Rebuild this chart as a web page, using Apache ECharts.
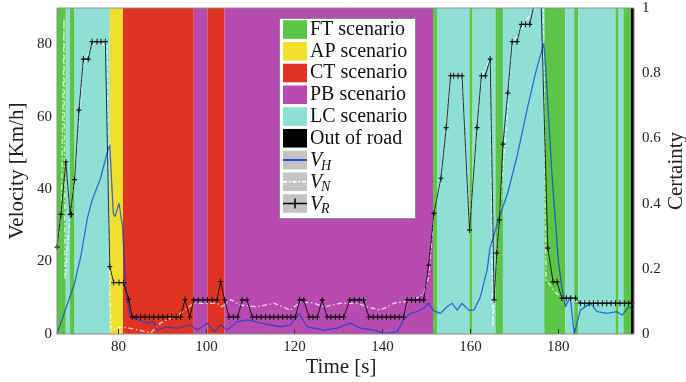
<!DOCTYPE html>
<html>
<head>
<meta charset="utf-8">
<script src="https://cdn.jsdelivr.net/npm/echarts@6/dist/echarts.min.js"></script>
<style>
  html, body { margin: 0; padding: 0; background: #fff; }
  #chart { width: 686px; height: 382px; }
</style>
</head>
<body>
<div id="chart"></div>
<script>
// Axis ticks
const timeTicks = [80, 100, 120, 140, 160, 180];
const speedTicks = [0, 20, 40, 60, 80];

// Scenario classes and their colours
const scenarioNames = ['FT scenario', 'AP scenario', 'CT scenario', 'PB scenario', 'LC scenario', 'Out of road'];
const scenarioColors = ['#5cc446', '#f1df2f', '#df3324', '#b84bb0', '#8edfd6', '#000000'];

// Detected scenario segments: [start time, end time, scenario index]
const segments = [
  [66.0, 68.0, 0], [68.0, 68.9, 4], [68.9, 70.0, 0], [70.0, 78.0, 4],
  [78.0, 81.0, 1], [81.0, 97.1, 2], [97.1, 100.2, 3], [100.2, 104.1, 2],
  [104.1, 151.5, 3], [151.5, 152.4, 0], [152.4, 159.8, 4], [159.8, 160.5, 0],
  [160.5, 165.7, 4], [165.7, 167.4, 0], [167.4, 176.8, 4], [176.8, 181.6, 0],
  [181.6, 183.6, 4], [183.6, 184.5, 0], [184.5, 193.0, 4], [193.0, 193.7, 0],
  [193.7, 194.8, 4], [194.8, 196.5, 0], [196.5, 197.2, 5]
];

// Host vehicle speed V_H [time s, km/h]
const speedH = [
  [66.0, 0], [68.0, 7], [70.0, 14], [71.5, 22], [72.9, 32], [74.0, 37], [75.9, 43], [77.4, 50],
  [78.0, 52.2], [78.8, 33.3], [79.2, 32.4], [80.1, 36.1], [80.9, 29.6], [81.7, 11.2], [82.7, 4.8],
  [84.5, 3.9], [86.5, 3.0], [88.0, 3.4], [88.8, 1.1], [91.0, 2.0], [93.3, 1.6], [96.4, 2.5],
  [97.9, 1.1], [100.2, 3.0], [101.7, 0.6], [103.2, 2.5], [104.7, 1.1], [107.0, 3.4], [109.3, 3.9],
  [110.5, 3.6], [112.3, 3.0], [116.8, 2.0], [119.1, 2.5], [121.0, 5.7], [122.9, 2.0], [126.7, 1.1],
  [129.7, 1.6], [132.7, 3.0], [135.0, 1.6], [138.0, 1.1], [140.7, 0.2], [143.3, 0.6], [144.8, 3.9],
  [146.4, 5.7], [147.9, 6.2], [149.4, 7.1], [150.5, 8.5], [151.7, 6.4], [153.2, 5.7], [154.7, 7.5],
  [155.8, 8.5], [157.0, 6.6], [158.1, 8.5], [159.6, 6.6], [160.8, 6.6], [162.3, 10.3], [163.8, 17.7],
  [164.5, 24], [166.5, 32], [168.5, 39], [170.6, 49], [172.9, 62], [174.8, 72], [176.7, 80.3],
  [177.2, 72], [178.5, 45], [180.0, 20], [180.8, 13], [181.6, 7.5], [182.7, 10.3], [183.6, 0],
  [185.0, 6.6], [187.3, 8.5], [188.8, 6.2], [191.1, 5.7], [193.3, 6.2], [194.5, 5.2], [196.0, 7.5],
  [197.2, 6.5]
];

// Nominal speed V_N [time s, km/h]
const speedN = [
  [66.0, 24], [67.0, 33], [67.6, 87], [67.8, 15], [69.0, 33], [70.0, 43], [72.0, 74], [74.0, 80],
  [77.4, 80], [78.0, 12], [78.3, 1], [80.5, 2], [83.0, 1.5], [87.3, 0.3], [89.5, 3], [94.1, 5.7],
  [97.1, 8.5], [102.4, 8.5], [103.5, 7.5], [105.5, 9.5], [107.7, 8], [111.5, 7.5], [115.3, 8.5],
  [119.1, 6.6], [121.4, 8.9], [124.4, 8.5], [126.7, 7.5], [130.5, 8.5], [134.3, 8.5], [136.5, 7.5],
  [139.5, 6.6], [141.1, 7.5], [142.6, 8.5], [144.8, 8.9], [147.1, 9.4], [149.4, 11.2], [150.5, 15.8],
  [151.7, 33], [153.3, 43], [155.5, 71], [158.1, 71], [159.8, 30], [162.5, 71], [164.5, 76],
  [165.1, 2], [166.0, 22], [169.5, 80], [174.4, 90], [176.6, 90], [177.2, 15], [179.0, 12],
  [181.0, 9.5], [184.0, 9], [197.0, 8.5]
];

// Recommended speed V_R [time s, km/h]
const speedR = [
  [66.0, 24], [66.9, 33], [68.0, 47.5], [69.0, 33], [69.3, 33], [70.0, 42.6], [71.0, 61.8],
  [72.0, 75.9], [73.1, 75.9], [74.0, 80.7], [75.1, 80.7], [76.0, 80.7], [77.0, 80.7], [78.0, 18.6],
  [78.9, 14.2], [80.1, 14.2], [81.1, 14.2], [82.3, 9.6], [83.1, 4.7], [84.0, 4.7], [85.0, 4.7],
  [86.0, 4.7], [87.0, 4.7], [88.0, 4.7], [89.1, 4.7], [90.1, 4.7], [91.1, 4.7], [92.1, 4.7],
  [93.1, 4.7], [94.1, 4.7], [95.1, 9.5], [96.2, 4.7], [97.1, 9.4], [98.1, 9.4], [99.2, 9.4],
  [100.2, 9.4], [101.3, 9.4], [102.4, 9.4], [103.2, 14.5], [104.1, 9.4], [105.1, 4.7], [106.1, 4.7],
  [107.1, 4.7], [108.1, 9.4], [109.2, 9.4], [110.4, 4.7], [111.4, 4.7], [112.4, 4.7], [113.4, 4.7],
  [114.4, 4.7], [115.3, 4.7], [116.3, 4.7], [117.3, 4.7], [118.3, 4.7], [119.2, 4.7], [120.2, 4.7],
  [121.2, 9.4], [122.1, 9.4], [123.3, 4.7], [124.2, 4.7], [125.2, 4.7], [126.3, 9.4], [127.4, 4.7],
  [128.3, 4.7], [129.3, 4.7], [130.2, 4.7], [131.2, 4.7], [132.6, 9.4], [133.6, 9.4], [134.7, 9.4],
  [135.7, 9.4], [136.9, 4.7], [137.9, 4.7], [138.9, 4.7], [139.9, 4.7], [140.9, 4.7], [141.9, 4.7],
  [142.8, 4.7], [143.8, 4.7], [144.8, 4.7], [145.6, 9.4], [146.6, 9.4], [147.5, 9.4], [148.5, 9.4],
  [149.4, 9.4], [150.5, 19], [151.7, 33.3], [153.3, 43], [154.5, 57], [155.5, 71.3], [156.2, 71.3],
  [157.2, 71.3], [158.1, 71.3], [159.8, 28.7], [161.5, 57], [162.5, 71.3], [163.4, 71.3],
  [164.5, 75.9], [165.4, 9.4], [166.0, 22.3], [166.6, 31.5], [167.4, 52.4], [168.5, 66.5],
  [169.5, 80.7], [170.6, 80.7], [171.6, 85.5], [172.5, 85.5], [173.5, 85.5], [174.4, 90.5],
  [175.2, 90.5], [176.1, 90.5], [177.6, 23.7], [178.8, 14.4], [179.7, 14.4], [180.8, 9.9],
  [181.8, 9.9], [182.8, 9.9], [183.9, 9.9], [185.0, 8.5], [186.0, 8.5], [187.0, 8.5], [188.0, 8.5],
  [189.0, 8.5], [190.0, 8.5], [191.0, 8.5], [192.0, 8.5], [193.0, 8.5], [194.0, 8.5], [195.0, 8.5],
  [196.0, 8.5], [196.8, 8.5]
];

const SERIF = 'Liberation Serif';
const T_MIN = 66, T_MAX = 197.2, V_MAX = 90;
const GRID = { left: 57, top: 8, width: 577, height: 326 };

const colorH = 'rgba(10,60,215,0.72)';
const colorN = 'rgba(255,255,255,0.72)';
const colorR = 'rgba(0,0,0,0.8)';
const plusPath = 'path://M4,0h2v4h4v2h-4v4h-2v-4h-4v-2h4z';

// Legend drawn as graphic elements (swatch boxes and line samples on grey)
function buildLegend() {
  const x0 = 279.5, y0 = 18.5, rowH = 21.75, firstRow = 29.5, Z = 100;
  const els = [{
    type: 'rect', z: Z, shape: { x: x0, y: y0, width: 136, height: 200 },
    style: { fill: '#fff', stroke: '#8a8a8a', lineWidth: 1 }
  }];
  scenarioNames.forEach((name, i) => {
    const cy = firstRow + rowH * i;
    els.push({ type: 'rect', z: Z + 1, shape: { x: 283, y: cy - 9.3, width: 24, height: 18.6 }, style: { fill: scenarioColors[i] } });
    els.push({ type: 'text', z: Z + 1, x: 310, y: cy, style: { text: name, font: '20px "' + SERIF + '"', fill: '#111', verticalAlign: 'middle' } });
  });
  const lineItems = [
    { sub: 'H', stroke: '#2050d8', width: 2, dash: 'solid', plus: false },
    { sub: 'N', stroke: '#ffffff', width: 2, dash: [4, 2, 1.5, 2], plus: false },
    { sub: 'R', stroke: '#000000', width: 1.5, dash: 'solid', plus: true }
  ];
  lineItems.forEach((it, k) => {
    const cy = firstRow + rowH * (6 + k);
    els.push({ type: 'rect', z: Z + 1, shape: { x: 283, y: cy - 9.3, width: 24, height: 18.6 }, style: { fill: '#c3c3c3' } });
    els.push({ type: 'line', z: Z + 2, shape: { x1: 283, y1: cy, x2: 307, y2: cy }, style: { stroke: it.stroke, lineWidth: it.width, lineDash: it.dash } });
    if (it.plus) {
      els.push({ type: 'line', z: Z + 2, shape: { x1: 295, y1: cy - 5, x2: 295, y2: cy + 5 }, style: { stroke: '#000', lineWidth: 1.5 } });
    }
    els.push({ type: 'text', z: Z + 1, x: 310, y: cy + 1, style: { text: 'V', font: 'italic 20px "' + SERIF + '"', fill: '#111', verticalAlign: 'middle' } });
    els.push({ type: 'text', z: Z + 1, x: 321, y: cy + 6, style: { text: it.sub, font: 'italic 14px "' + SERIF + '"', fill: '#111', verticalAlign: 'middle' } });
  });
  return els;
}

const chart = echarts.init(document.getElementById('chart'), null, { renderer: 'canvas' });

const option = {
  animation: false,
  backgroundColor: '#fff',
  grid: { left: GRID.left, top: GRID.top, width: GRID.width, height: GRID.height, containLabel: false, outerBoundsMode: 'none' },
  xAxis: {
    type: 'value', min: T_MIN, max: T_MAX, z: 10,
    name: 'Time [s]', nameLocation: 'middle', nameGap: 23, nameMoveOverlap: false,
    nameTextStyle: { fontFamily: SERIF, fontSize: 21, color: '#222', padding: [0, 9, 0, 0] },
    axisLine: { show: false },
    axisTick: { show: true, inside: true, length: 5, customValues: timeTicks, lineStyle: { color: '#333' } },
    axisLabel: { customValues: timeTicks, fontFamily: SERIF, fontSize: 15, color: '#222', margin: 6 },
    splitLine: { show: false }
  },
  yAxis: [{
    type: 'value', min: 0, max: V_MAX, z: 10,
    name: 'Velocity [Km/h]', nameLocation: 'middle', nameGap: 29, nameRotate: 90, nameMoveOverlap: false,
    nameTextStyle: { fontFamily: SERIF, fontSize: 21, color: '#222' },
    axisLine: { show: false },
    axisTick: { show: false, customValues: speedTicks },
    axisLabel: { customValues: speedTicks, fontFamily: SERIF, fontSize: 15, color: '#222', margin: 5 },
    splitLine: { show: false }
  }, {
    type: 'value', min: 0, max: 1, interval: 0.2, position: 'right', z: 10,
    name: 'Certainty', nameLocation: 'middle', nameGap: 32, nameRotate: 90, nameMoveOverlap: false,
    nameTextStyle: { fontFamily: SERIF, fontSize: 21, color: '#222' },
    axisLine: { show: false },
    axisTick: { show: false },
    axisLabel: { fontFamily: SERIF, fontSize: 15, color: '#222', margin: 8 },
    splitLine: { show: false }
  }],
  graphic: [
    { type: 'rect', z: 50, shape: { x: GRID.left, y: GRID.top, width: GRID.width, height: GRID.height },
      style: { fill: 'none', stroke: '#8c8c8c', lineWidth: 1 } }
  ].concat(buildLegend()),
  series: [
    {
      name: 'scenarios', type: 'custom', z: 1, silent: true,
      data: segments,
      encode: { x: [0, 1] },
      renderItem: function (params, api) {
        const p0 = api.coord([api.value(0), V_MAX]);
        const p1 = api.coord([api.value(1), 0]);
        return {
          type: 'rect',
          shape: { x: p0[0], y: p0[1], width: p1[0] - p0[0], height: p1[1] - p0[1] },
          style: { fill: scenarioColors[api.value(2)] }
        };
      }
    },
    {
      name: 'V_N', type: 'line', z: 3, data: speedN, showSymbol: false,
      lineStyle: { color: colorN, width: 1.4, type: [5, 2.5, 1.5, 2.5] }
    },
    {
      name: 'V_H', type: 'line', z: 4, data: speedH, showSymbol: false,
      lineStyle: { color: colorH, width: 1.3 }
    },
    {
      name: 'V_R', type: 'line', z: 5, data: speedR,
      symbol: plusPath, symbolSize: [5, 6], showAllSymbol: true,
      itemStyle: { color: '#111' },
      lineStyle: { color: colorR, width: 1 }
    }
  ]
};

chart.setOption(option);
</script>
</body>
</html>
